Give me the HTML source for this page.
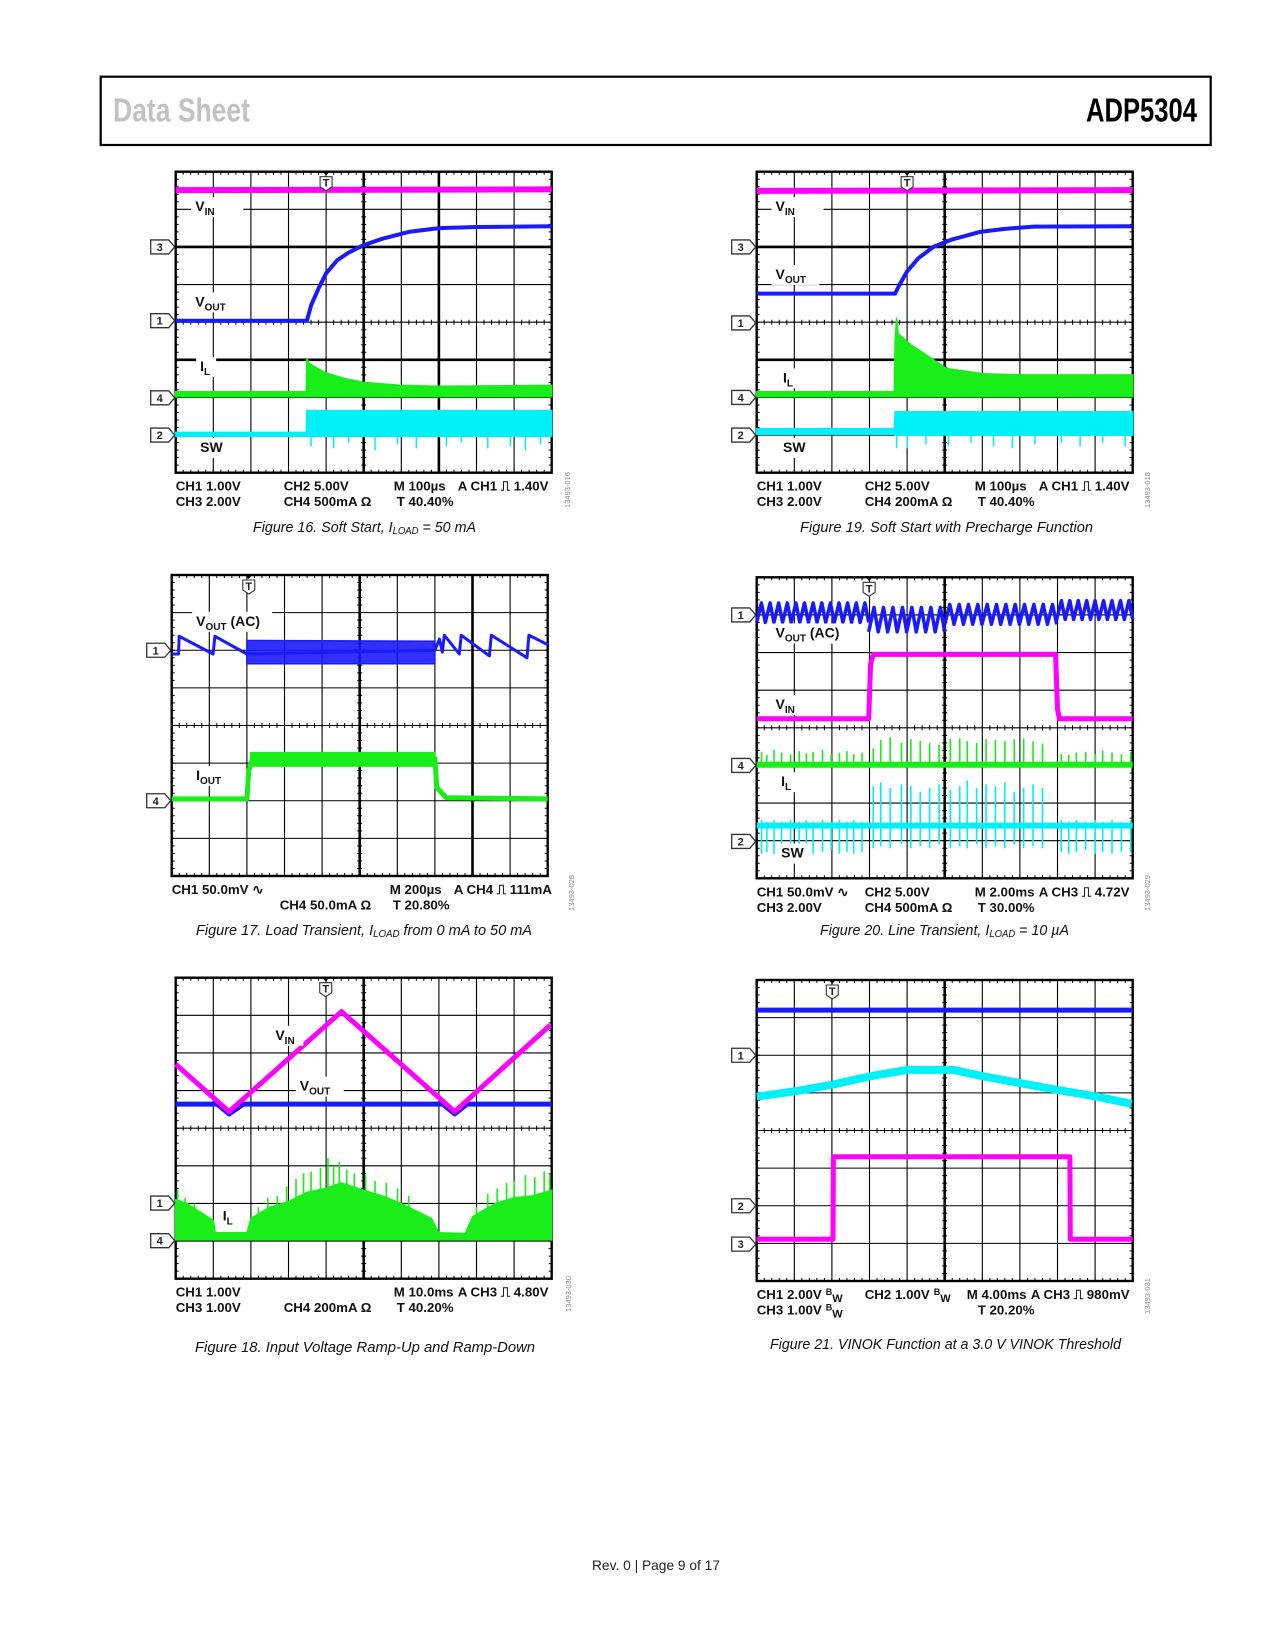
<!DOCTYPE html>
<html><head><meta charset="utf-8"><title>ADP5304 Data Sheet page 9</title>
<style>
html,body{margin:0;padding:0;background:#fff;}
#page{position:relative;width:1275px;height:1650px;overflow:hidden;}
svg{position:absolute;left:0;top:0;}
text{font-family:"Liberation Sans",Arial,sans-serif;}
</style></head>
<body>
<div id="page">
<svg id="svg" width="1275" height="1650" viewBox="0 0 1275 1650">
  <rect x="100.7" y="76.7" width="1110" height="68.3" fill="none" stroke="#000" stroke-width="2.2"/>
  <text x="113" y="121.7" font-size="33" font-weight="bold" fill="#c2c2c2" textLength="137" lengthAdjust="spacingAndGlyphs" style="font-family:'Liberation Sans Narrow','Liberation Sans',sans-serif">Data Sheet</text>
  <text x="1086" y="121.7" font-size="33" font-weight="bold" fill="#000" textLength="111" lengthAdjust="spacingAndGlyphs" style="font-family:'Liberation Sans Narrow','Liberation Sans',sans-serif">ADP5304</text>
  <text x="592" y="1570" font-size="14" fill="#222" textLength="128" lengthAdjust="spacingAndGlyphs">Rev. 0 | Page 9 of 17</text>
</svg>
</div>
<script>
// ---------- Figure 16 data ----------
const f16VinT=[0,10];
const f16VinV=[0.49,0.47];
const f16VoutT=[0,3.49,3.6,3.8,4.0,4.3,4.6,5.0,5.5,6.2,7.0,8.0,10];
const f16VoutV=[3.96,3.96,3.55,3.1,2.7,2.35,2.15,1.95,1.78,1.6,1.5,1.47,1.45];
const f16IlT=[0,3.47,3.49,3.55,4.0,4.5,5.0,6.0,7.0,10];
const f16IlTop=[5.85,5.85,4.95,5.1,5.35,5.5,5.6,5.68,5.7,5.68];
const f16IlBot=[5.98,5.98,5.98,5.98,5.98,5.98,5.98,5.98,5.98,5.98];
const f16SwT=[0,3.47,3.49,10];
const f16SwTop=[6.93,6.93,6.35,6.35];
const f16SwBot=[7.03,7.03,7.03,7.03];
const f16SwSpikeT=[3.6,4.2,4.6,5.3,5.9,6.4,7.2,7.6,8.3,8.9,9.3,9.7];
const f16SwSpikeV=[7.3,7.35,7.2,7.4,7.25,7.35,7.3,7.2,7.35,7.3,7.4,7.25];
// ---------- Figure 19 data ----------
const f19VinT=[0,10];
const f19VinV=[0.51,0.49];
const f19VoutT=[0,3.68,3.8,4.0,4.3,4.7,5.2,5.94,6.6,7.36,10];
const f19VoutV=[3.24,3.24,3.0,2.65,2.3,2.0,1.8,1.6,1.52,1.46,1.45];
const f19IlT=[0,3.66,3.68,3.72,3.76,4.1,4.52,5.05,6.03,7.0,10];
const f19IlTop=[5.85,5.85,4.5,3.88,4.3,4.6,4.88,5.23,5.37,5.4,5.4];
const f19IlBot=[5.98,5.98,5.98,5.98,5.98,5.98,5.98,5.98,5.98,5.98,5.98];
const f19SwT=[0,3.66,3.68,10];
const f19SwTop=[6.83,6.83,6.38,6.38];
const f19SwBot=[6.98,6.98,7.0,7.0];
const f19SwSpikeT=[3.72,4.0,4.5,5.1,5.7,6.3,6.8,7.4,8.1,8.6,9.2,9.8];
const f19SwSpikeV=[7.35,7.35,7.25,7.3,7.2,7.3,7.35,7.25,7.2,7.3,7.2,7.3];
// ---------- Figure 17 data ----------
const f17VoutT=[0,0.18,0.2,1.1,1.15,2.0,7.0,7.12,7.2,7.25,7.65,7.7,8.45,8.5,9.45,9.5,10];
const f17VoutV=[2.1,2.1,1.63,2.1,1.63,2.1,2.0,1.7,2.05,1.6,2.1,1.6,2.15,1.6,2.2,1.6,1.85];
const f17VoutBandT=[2.0,7.0];
const f17VoutBandTop=[1.74,1.76];
const f17VoutBandBot=[2.36,2.36];
const f17IoutT=[0,2.0,2.05,2.15,3,5,7.0,7.05,7.3,10];
const f17IoutV=[5.95,5.95,5.2,4.9,4.88,4.88,4.88,5.65,5.92,5.95];
const f17IoutBandT=[2.1,7.0];
const f17IoutBandTop=[4.72,4.72];
const f17IoutBandBot=[5.08,5.08];
// ---------- Figure 20 data ----------
const f20VoutSegStart=[0,2.98,5.0,7.98];
const f20VoutSegEnd=[2.98,5.0,7.98,10];
const f20VoutSegHi=[0.68,0.8,0.72,0.62];
const f20VoutSegLo=[1.2,1.45,1.25,1.12];
const f20VoutSegTeeth=[13,8,12,9];
const f20VinT=[0,2.98,3.03,3.1,7.95,8.0,8.05,10];
const f20VinV=[3.76,3.76,2.3,2.05,2.05,3.5,3.76,3.76];
const f20SpikeT=[0.13,0.27,0.46,0.66,0.9,1.13,1.32,1.5,1.75,1.98,2.2,2.4,2.58,2.8,3.1,3.3,3.55,3.85,4.1,4.35,4.6,4.85,5.15,5.4,5.6,5.85,6.1,6.35,6.6,6.85,7.1,7.35,7.6,8.1,8.3,8.5,8.75,9.0,9.2,9.45,9.7,9.95];
const f20IlSpikeTop=[4.64,4.72,4.58,4.66,4.7,4.62,4.68,4.64,4.58,4.7,4.66,4.62,4.7,4.66,4.55,4.32,4.25,4.4,4.3,4.35,4.4,4.45,4.3,4.28,4.35,4.4,4.3,4.32,4.35,4.3,4.28,4.36,4.42,4.7,4.72,4.66,4.64,4.7,4.6,4.66,4.7,4.64];
const f20SwSpikeTop=[6.45,6.5,6.45,6.5,6.45,6.5,6.45,6.5,6.45,6.5,6.45,6.5,6.45,6.5,5.55,5.45,5.6,5.5,5.55,5.7,5.6,5.5,5.65,5.55,5.4,5.6,5.5,5.55,5.45,5.7,5.6,5.5,5.6,6.45,6.5,6.45,6.5,6.45,6.5,6.45,6.5,6.45];
const f20SwSpikeBot=[7.35,7.3,7.35,7.3,7.25,7.35,7.3,7.35,7.3,7.25,7.35,7.3,7.35,7.3,7.2,7.15,7.2,7.1,7.2,7.15,7.2,7.1,7.2,7.15,7.2,7.1,7.2,7.15,7.2,7.1,7.2,7.15,7.2,7.3,7.35,7.3,7.25,7.35,7.3,7.35,7.3,7.3];
// ---------- Figure 18 data ----------
const f18VinT=[0,1.42,4.41,7.42,9.96];
const f18VinV=[2.3,3.56,0.9,3.56,1.26];
const f18VoutT=[0,1.1,1.42,1.8,7.1,7.42,7.75,10];
const f18VoutV=[3.36,3.36,3.62,3.36,3.36,3.62,3.36,3.36];
const f18IlT=[0,0.3,1.0,1.05,1.9,2.0,2.5,3.0,3.5,4.0,4.4,5.0,5.5,6.0,6.8,7.0,7.7,7.9,8.5,9.0,9.5,10];
const f18IlTop=[5.9,6.0,6.45,6.78,6.78,6.4,6.1,5.95,5.7,5.6,5.45,5.65,5.8,6.0,6.4,6.78,6.8,6.35,6.0,5.85,5.8,5.65];
const f18IlBot=[6.97,6.97,6.97,6.97,6.97,6.97,6.97,6.97,6.97,6.97,6.97,6.97,6.97,6.97,6.97,6.97,6.97,6.97,6.97,6.97,6.97,6.97];
const f18IlSpikeT=[0.05,0.25,0.5,2.2,2.45,2.7,2.95,3.2,3.4,3.6,3.85,4.05,4.2,4.35,4.55,4.75,5.05,5.3,5.6,5.9,6.2,8.0,8.3,8.55,8.8,9.0,9.3,9.55,9.8,9.95];
const f18IlSpikeTop=[5.65,5.85,6.0,6.1,5.85,5.8,5.55,5.35,5.2,5.15,5.05,4.8,5.0,4.9,5.1,5.2,5.25,5.4,5.45,5.6,5.8,6.1,5.75,5.6,5.45,5.4,5.25,5.3,5.15,5.2];
// ---------- Figure 21 data ----------
const f21Ch1T=[0,10];
const f21Ch1V=[0.8,0.8];
const f21Ch2T=[0,1.01,2.02,3.01,4.0,5.23,6.03,7.0,8.0,9.0,9.97];
const f21Ch2V=[3.1,2.96,2.78,2.56,2.39,2.39,2.56,2.74,2.92,3.09,3.29];
const f21Ch3T=[0,2.03,2.04,8.33,8.34,10];
const f21Ch3V=[6.89,6.89,4.7,4.7,6.89,6.89];

const svg=document.getElementById('svg');
const NS='http://www.w3.org/2000/svg';
const W=376,H=301;
function mk(tag,attrs,name,parent){
  const el=document.createElementNS(NS,tag);
  for(const k in attrs) el.setAttribute(k,attrs[k]);
  
  
  (parent||svg).appendChild(el);
  return el;
}
function axes(x0,y0){return {x:t=>x0+t*W/10,y:v=>y0+v*H/8};}
function pts(ax,T,V){return T.map((t,i)=>ax.x(t).toFixed(1)+','+ax.y(V[i]).toFixed(1)).join(' ');}
function line(g,ax,T,V,color,w,name){mk('polyline',{points:pts(ax,T,V),fill:'none',stroke:color,'stroke-width':w,'stroke-linejoin':'round'},name,g);}
function band(g,ax,T,top,bot,color,name,op){
  const p=pts(ax,T,top)+' '+pts(ax,T.slice().reverse(),bot.slice().reverse());
  mk('polygon',{points:p,fill:color,stroke:color,'stroke-width':1.5,'fill-opacity':op||1},name,g);
}
function spikes(g,ax,T,from,to,color,w,name){
  T.forEach((t,i)=>{const f=Array.isArray(from)?from[i]:from;
    mk('line',{x1:ax.x(t),x2:ax.x(t),y1:ax.y(f),y2:ax.y(to[i]),stroke:color,'stroke-width':w},name,g);});
}
function grid(g,x0,y0,thickH,thickV){
  const dx=W/10,dy=H/8;
  for(let i=1;i<10;i++) mk('line',{x1:x0+i*dx,x2:x0+i*dx,y1:y0,y2:y0+H,stroke:'#000','stroke-width':thickV.includes(i)?2.6:1.1},'grid-v',g);
  for(let j=1;j<8;j++) mk('line',{x1:x0,x2:x0+W,y1:y0+j*dy,y2:y0+j*dy,stroke:'#000','stroke-width':thickH.includes(j)?2.6:1.1},'grid-h',g);
  let d='';
  for(let k=1;k<50;k++){const x=x0+k*dx/5;d+=`M${x},${y0}v3M${x},${y0+H}v-3M${x},${y0+4*dy-2.5}v5`;}
  for(let k=1;k<40;k++){const y=y0+k*dy/5;d+=`M${x0},${y}h3M${x0+W},${y}h-3M${x0+5*dx-2.5},${y}h5`;}
  mk('path',{d:d,stroke:'#000','stroke-width':1,fill:'none'},'minor-ticks',g);
  mk('rect',{x:x0,y:y0,width:W,height:H,fill:'none',stroke:'#000','stroke-width':2.4},'plot-border',g);
}
function marker(g,x0,y,num){
  mk('path',{d:`M${x0-25},${y-7}H${x0-7}L${x0-1},${y}L${x0-7},${y+7}H${x0-25}Z`,fill:'#fff',stroke:'#333','stroke-width':1.3},'channel-marker-'+num,g);
  const t=mk('text',{x:x0-16,y:y+4,'font-size':11,'font-weight':'bold','text-anchor':'middle',fill:'#222'},'channel-marker-label',g);t.textContent=num;
}
function trig(g,x,y0){
  mk('path',{d:`M${x-4},${y0-1}L${x+4},${y0-1}L${x},${y0+4}Z`,fill:'#000'},'trigger-arrow',g);
  mk('path',{d:`M${x-6},${y0+5}H${x+6}V${y0+15}L${x},${y0+19}L${x-6},${y0+15}Z`,fill:'#fff',stroke:'#333','stroke-width':1.1},'trigger-marker',g);
  const t=mk('text',{x:x,y:y0+15,'font-size':11,'font-weight':'bold','text-anchor':'middle',fill:'#222'},'trigger-label',g);t.textContent='T';
}
function label(g,ax,t,v,main,sub,extra,bw){
  const x=ax.x(t),y=ax.y(v);
  mk('rect',{x:x-4,y:y-14,width:bw,height:20,fill:'#fff'},'label-bg',g);
  const el=mk('text',{x:x,y:y,'font-size':14,'font-weight':'bold',fill:'#111'},'trace-label-'+main+sub,g);
  el.appendChild(document.createTextNode(main));
  if(sub){const s=mk('tspan',{'font-size':10,dy:4},'label-subscript',el);s.textContent=sub;}
  if(extra){const s=mk('tspan',{dy:sub?-4:0},'label-suffix',el);s.textContent=extra;}
}
function info(g,x0,y0,items){
  items.forEach(it=>{
    const el=mk('text',{x:x0+it[1],y:y0+H+(it[2]?33.5:18),'font-size':13.3,'font-weight':'bold',fill:'#111'},'scope-setting',g);
    el.appendChild(document.createTextNode(it[0]));
    if(it[3]){const s=mk('tspan',{'font-size':9,dy:-4,dx:4},'bw-b',el);s.textContent='B';const s2=mk('tspan',{'font-size':11,dy:7},'bw-w',el);s2.textContent='W';}
  });
}
function caption(x,y,len,parts,name){
  const el=mk('text',{x:x,y:y,'font-size':15,'font-style':'italic',fill:'#111',textLength:len,lengthAdjust:'spacingAndGlyphs'},name,svg);
  parts.forEach(p=>{const s=mk('tspan',p[1]?{'font-size':10,dy:2}:{dy:p[2]||0},'caption-part',el);s.textContent=p[0];});
}
function fid(x,y,s){const el=mk('text',{x:x,y:y,'font-size':7.5,fill:'#888','text-anchor':'middle',transform:`rotate(-90 ${x} ${y})`},'figure-id',svg);el.textContent=s;}

const MAG='#ff00ff',BLU='#1a1aff',GRN='#1aee1a',CYN='#00f0f8';

// ---- Fig 16 ----
(function(){const x0=175.7,y0=171.7,ax=axes(x0,y0);const g=mk('g',{},'figure-16-scope');
grid(g,x0,y0,[2,5],[5,7]);
line(g,ax,f16VinT,f16VinV,MAG,6,'vin-trace');
band(g,ax,f16SwT,f16SwTop,f16SwBot,CYN,'sw-trace');
spikes(g,ax,f16SwSpikeT,7.0,f16SwSpikeV,CYN,1.5,'sw-spike');
band(g,ax,f16IlT,f16IlTop,f16IlBot,GRN,'il-trace');
line(g,ax,f16VoutT,f16VoutV,BLU,4,'vout-trace');
label(g,ax,0.52,1.05,'V','IN','',52);label(g,ax,0.52,3.58,'V','OUT','',46);label(g,ax,0.65,5.3,'I','L','',20);label(g,ax,0.65,7.45,'SW','','',32);
[['3',2.0],['1',3.96],['4',6.01],['2',7.0]].forEach(m=>marker(g,x0,ax.y(m[1]),m[0]));
trig(g,ax.x(4.0),y0);
info(g,x0,y0,[['CH1 1.00V',0,0],['CH2  5.00V',108,0],['M 100µs',218,0],['A  CH1 ⎍ 1.40V',282,0],['CH3 2.00V',0,1],['CH4  500mA Ω',108,1],['T  40.40%',221,1]]);
})();
// ---- Fig 19 ----
(function(){const x0=756.7,y0=171.7,ax=axes(x0,y0);const g=mk('g',{},'figure-19-scope');
grid(g,x0,y0,[2,5],[5]);
line(g,ax,f19VinT,f19VinV,MAG,6,'vin-trace');
band(g,ax,f19SwT,f19SwTop,f19SwBot,CYN,'sw-trace');
spikes(g,ax,f19SwSpikeT,7.0,f19SwSpikeV,CYN,1.5,'sw-spike');
band(g,ax,f19IlT,f19IlTop,f19IlBot,GRN,'il-trace');
line(g,ax,f19VoutT,f19VoutV,BLU,4,'vout-trace');
label(g,ax,0.5,1.05,'V','IN','',52);label(g,ax,0.5,2.85,'V','OUT','',48);label(g,ax,0.7,5.6,'I','L','',20);label(g,ax,0.7,7.45,'SW','','',32);
[['3',2.0],['1',4.02],['4',6.0],['2',7.0]].forEach(m=>marker(g,x0,ax.y(m[1]),m[0]));
trig(g,ax.x(4.0),y0);
info(g,x0,y0,[['CH1 1.00V',0,0],['CH2  5.00V',108,0],['M 100µs',218,0],['A  CH1 ⎍ 1.40V',282,0],['CH3 2.00V',0,1],['CH4  200mA Ω',108,1],['T  40.40%',221,1]]);
})();
// ---- Fig 17 ----
(function(){const x0=171.7,y0=575,ax=axes(x0,y0);const g=mk('g',{},'figure-17-scope');
grid(g,x0,y0,[],[5,8]);
band(g,ax,f17VoutBandT,f17VoutBandTop,f17VoutBandBot,BLU,'vout-noise-band',0.9);
line(g,ax,f17VoutT,f17VoutV,BLU,3,'vout-ac-trace');
band(g,ax,f17IoutBandT,f17IoutBandTop,f17IoutBandBot,GRN,'iout-noise-band');
line(g,ax,f17IoutT,f17IoutV,GRN,5,'iout-trace');
label(g,ax,0.65,1.35,'V','OUT',' (AC)',80);label(g,ax,0.65,5.45,'I','OUT','',38);
[['1',2.0],['4',6.0]].forEach(m=>marker(g,x0,ax.y(m[1]),m[0]));
trig(g,ax.x(2.05),y0);
info(g,x0,y0,[['CH1 50.0mV ∿',0,0],['M 200µs',218,0],['A  CH4 ⎍ 111mA',282,0],['CH4  50.0mA Ω',108,1],['T  20.80%',221,1]]);
})();
// ---- Fig 20 ----
(function(){const x0=756.7,y0=577.3,ax=axes(x0,y0);const g=mk('g',{},'figure-20-scope');
grid(g,x0,y0,[],[5]);
const iBase=f20SpikeT.map(()=>4.98);
spikes(g,ax,f20SpikeT,f20SwSpikeBot,f20SwSpikeTop,CYN,1.6,'sw-spike');
line(g,ax,[0,10],[6.6,6.6],CYN,6,'sw-trace');
spikes(g,ax,f20SpikeT,iBase,f20IlSpikeTop,GRN,1.6,'il-spike');
line(g,ax,[0,10],[4.98,4.98],GRN,6,'il-trace');
line(g,ax,f20VinT,f20VinV,MAG,5,'vin-trace');
f20VoutSegStart.forEach((s,i)=>{const e=f20VoutSegEnd[i],n=f20VoutSegTeeth[i],T=[],V=[];
  for(let k=0;k<n;k++){const a=s+(e-s)*k/n;T.push(a);V.push(f20VoutSegLo[i]);T.push(a+(e-s)/n*0.55);V.push(f20VoutSegHi[i]);}
  T.push(e);V.push(f20VoutSegLo[i]);line(g,ax,T,V,BLU,3.5,'vout-ac-trace');});
label(g,ax,0.5,1.6,'V','OUT',' (AC)',80);label(g,ax,0.5,3.5,'V','IN','',30);label(g,ax,0.65,5.55,'I','L','',20);label(g,ax,0.65,7.45,'SW','','',32);
[['1',1.0],['4',5.0],['2',7.02]].forEach(m=>marker(g,x0,ax.y(m[1]),m[0]));
trig(g,ax.x(2.99),y0);
info(g,x0,y0,[['CH1 50.0mV ∿',0,0],['CH2  5.00V',108,0],['M 2.00ms',218,0],['A  CH3 ⎍ 4.72V',282,0],['CH3 2.00V',0,1],['CH4  500mA Ω',108,1],['T  30.00%',221,1]]);
})();
// ---- Fig 18 ----
(function(){const x0=175.7,y0=977.7,ax=axes(x0,y0);const g=mk('g',{},'figure-18-scope');
grid(g,x0,y0,[],[5]);
spikes(g,ax,f18IlSpikeT,6.9,f18IlSpikeTop,GRN,1.6,'il-spike');
band(g,ax,f18IlT,f18IlTop,f18IlBot,GRN,'il-trace');
line(g,ax,f18VoutT,f18VoutV,BLU,5,'vout-trace');
line(g,ax,f18VinT,f18VinV,MAG,5,'vin-trace');
label(g,ax,2.65,1.65,'V','IN','',32);label(g,ax,3.3,3.0,'V','OUT','',48);label(g,ax,1.25,6.45,'I','L','',20);
[['1',5.99],['4',6.99]].forEach(m=>marker(g,x0,ax.y(m[1]),m[0]));
trig(g,ax.x(3.99),y0);
info(g,x0,y0,[['CH1 1.00V',0,0],['M 10.0ms',218,0],['A  CH3 ⎍ 4.80V',282,0],['CH3 1.00V',0,1],['CH4  200mA Ω',108,1],['T  40.20%',221,1]]);
})();
// ---- Fig 21 ----
(function(){const x0=756.7,y0=980,ax=axes(x0,y0);const g=mk('g',{},'figure-21-scope');
grid(g,x0,y0,[],[5]);
line(g,ax,f21Ch1T,f21Ch1V,BLU,5,'ch1-trace');
line(g,ax,f21Ch2T,f21Ch2V,CYN,8,'ch2-trace');
line(g,ax,f21Ch3T,f21Ch3V,MAG,5,'ch3-trace');
[['1',2.0],['2',6.0],['3',7.02]].forEach(m=>marker(g,x0,ax.y(m[1]),m[0]));
trig(g,ax.x(2.01),y0);
info(g,x0,y0,[['CH1 2.00V',0,0,1],['CH2 1.00V',108,0,1],['M 4.00ms',210,0],['A  CH3 ⎍ 980mV',274,0],['CH3 1.00V',0,1,1],['T 20.20%',221,1]]);
})();
// captions
caption(253,532,223,[['Figure 16. Soft Start, I'],['LOAD',1],[' = 50 mA',0,-2]],'caption-figure-16');
caption(800,532,293,[['Figure 19. Soft Start with Precharge Function']],'caption-figure-19');
caption(196,935,336,[['Figure 17. Load Transient, I'],['LOAD',1],[' from 0 mA to 50 mA',0,-2]],'caption-figure-17');
caption(820,935,249,[['Figure 20. Line Transient, I'],['LOAD',1],[' = 10 µA',0,-2]],'caption-figure-20');
caption(195,1352,340,[['Figure 18. Input Voltage Ramp-Up and Ramp-Down']],'caption-figure-18');
caption(770,1349,351,[['Figure 21. VINOK Function at a 3.0 V VINOK Threshold']],'caption-figure-21');
fid(570,490,'13493-016');fid(1150,490,'13493-018');fid(574,893,'13493-028');fid(1150,893,'13493-029');fid(571,1294,'13493-030');fid(1150,1296,'13493-031');
</script>
</body></html>
